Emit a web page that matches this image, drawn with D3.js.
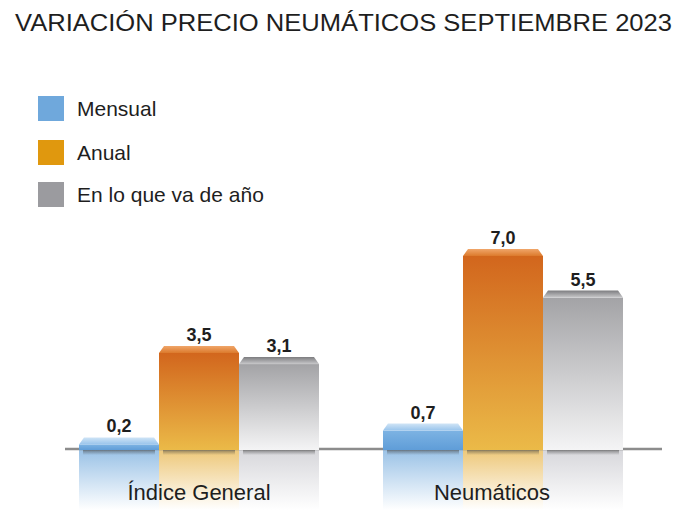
<!DOCTYPE html>
<html><head><meta charset="utf-8">
<script src="https://cdn.jsdelivr.net/npm/d3@7"></script>
<style>html,body{margin:0;padding:0;background:#fff;}svg{display:block;}</style>
</head><body>
<script>
const title = "VARIACIÓN PRECIO NEUMÁTICOS SEPTIEMBRE 2023";
const categories = ["Índice General", "Neumáticos"];
const seriesNames = ["Mensual", "Anual", "En lo que va de año"];
const mensual = [0.2, 0.7];
const anual = [3.5, 7.0];
const enLoQueVa = [3.1, 5.5];
const valueLabels = [["0,2","3,5","3,1"],["0,7","7,0","5,5"]];

const W = 690, H = 518;
const svg = d3.select("body").append("svg").attr("width", W).attr("height", H);
const defs = svg.append("defs");

const seriesData = [mensual, anual, enLoQueVa];
const styles = [
  {legend:"#6fa8dc", faceTop:"#7db3e3", faceBot:"#5f9dd8", bevTop:"#cfe4f6", bevBot:"#98c4ec", refl:"#6fa8dc"},
  {legend:"#e0980e", faceTop:"#d2661d", faceBot:"#ebba48", bevTop:"#f0a66a", bevBot:"#dc7a2c", refl:"#e6b040"},
  {legend:"#9b9b9f", faceTop:"#a3a3a6", faceBot:"#f4f4f5", bevTop:"#7d7d80", bevBot:"#c8c8ca", refl:"#c6c6cc"}
];
styles.forEach((s,i)=>{
  const f = defs.append("linearGradient").attr("id","face"+i).attr("x1",0).attr("y1",0).attr("x2",0).attr("y2",1);
  f.append("stop").attr("offset","0%").attr("stop-color",s.faceTop);
  f.append("stop").attr("offset","100%").attr("stop-color",s.faceBot);
  const b = defs.append("linearGradient").attr("id","bev"+i).attr("x1",0).attr("y1",0).attr("x2",0).attr("y2",1);
  b.append("stop").attr("offset","0%").attr("stop-color",s.bevTop);
  b.append("stop").attr("offset","100%").attr("stop-color",s.bevBot);
  const r = defs.append("linearGradient").attr("id","refl"+i).attr("x1",0).attr("y1",0).attr("x2",0).attr("y2",1);
  r.append("stop").attr("offset","0%").attr("stop-color",s.refl).attr("stop-opacity",0.7);
  r.append("stop").attr("offset","100%").attr("stop-color",s.refl).attr("stop-opacity",0);
});
const sh = defs.append("linearGradient").attr("id","shadow").attr("x1",0).attr("y1",0).attr("x2",0).attr("y2",1);
sh.append("stop").attr("offset","0%").attr("stop-color","#444").attr("stop-opacity",0.55);
sh.append("stop").attr("offset","100%").attr("stop-color","#444").attr("stop-opacity",0);

// Title
svg.append("text").attr("x",15).attr("y",31)
  .attr("font-family","Liberation Sans, Arial, sans-serif").attr("font-size",23)
  .attr("fill","#1e1e1e").attr("textLength",657).attr("lengthAdjust","spacingAndGlyphs")
  .text(title);

// Legend
const legY = [96, 140, 182];
seriesNames.forEach((n,i)=>{
  svg.append("rect").attr("x",38).attr("y",legY[i]).attr("width",26).attr("height",25).attr("fill",styles[i].legend);
  svg.append("text").attr("x",77).attr("y",legY[i]+20)
    .attr("font-family","Liberation Sans, Arial, sans-serif").attr("font-size",21).attr("fill","#1e1e1e").text(n);
});

// Scales
const x0 = d3.scaleBand().domain(categories).range([79, 623]).paddingInner(0.2105).paddingOuter(0);
const x1 = d3.scaleBand().domain(seriesNames).range([0, x0.bandwidth()]).padding(0);
const y = d3.scaleLinear().domain([0, 7]).range([450, 256]);
const base = y(0);

// reflections
categories.forEach((c,ci)=>{
  seriesNames.forEach((s,si)=>{
    svg.append("rect").attr("x",x0(c)+x1(s)).attr("y",base).attr("width",x1.bandwidth()).attr("height",60)
      .attr("fill",`url(#refl${si})`);
  });
});

// baseline
svg.append("line").attr("x1",65).attr("x2",662).attr("y1",base-1).attr("y2",base-1)
  .attr("stroke","#8c8c8c").attr("stroke-width",2.5);

// Bars
const bev = 7, inset = 5;
categories.forEach((c,ci)=>{
  seriesNames.forEach((s,si)=>{
    const v = seriesData[si][ci];
    const bx = x0(c)+x1(s), bw = x1.bandwidth();
    const top = y(v);
    const g = svg.append("g");
    g.append("rect").attr("x",bx+4).attr("y",base).attr("width",bw-8).attr("height",5).attr("fill","url(#shadow)");
    g.append("rect").attr("x",bx).attr("y",top).attr("width",bw).attr("height",base-top).attr("fill",`url(#face${si})`);
    g.append("path").attr("d",`M${bx},${top} L${bx+inset},${top-bev} L${bx+bw-inset},${top-bev} L${bx+bw},${top} Z`)
      .attr("fill",`url(#bev${si})`);
    g.append("text").attr("x",bx+bw/2).attr("y",top-bev-5).attr("text-anchor","middle")
      .attr("font-family","Liberation Sans, Arial, sans-serif").attr("font-weight","bold").attr("font-size",18)
      .attr("fill","#1e1e1e").text(valueLabels[ci][si]);
  });
});

// Category labels
const catOffset = [0, -11];
categories.forEach((c,ci)=>{
  svg.append("text").attr("x",x0(c)+x0.bandwidth()/2+catOffset[ci]).attr("y",500).attr("text-anchor","middle")
    .attr("font-family","Liberation Sans, Arial, sans-serif").attr("font-size",22).attr("fill","#1e1e1e").text(c);
});
</script>
</body></html>
